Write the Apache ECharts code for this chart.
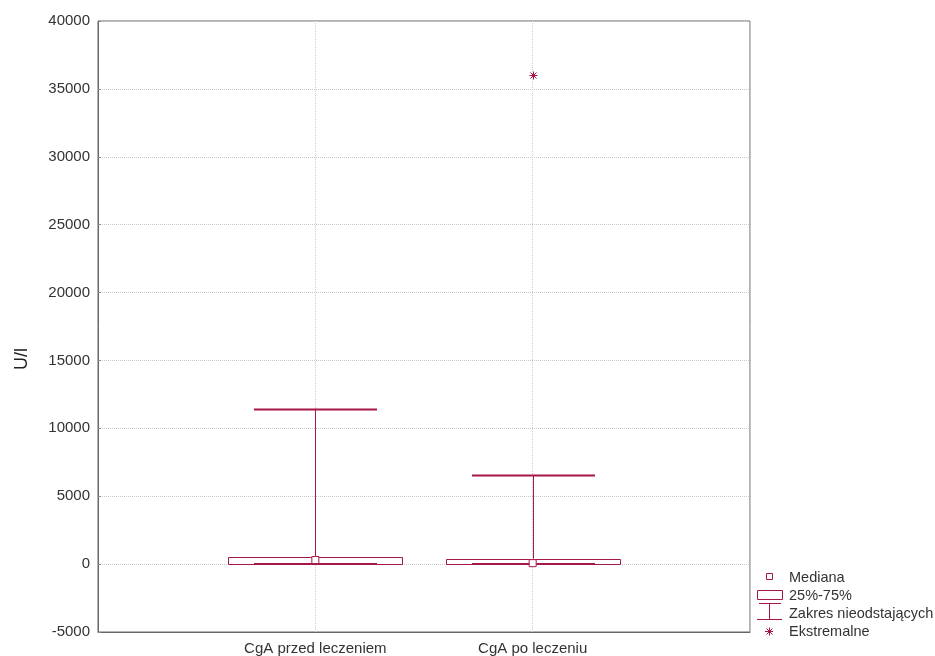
<!DOCTYPE html>
<html>
<head>
<meta charset="utf-8">
<script src="https://cdn.jsdelivr.net/npm/echarts@6/dist/echarts.min.js"></script>
<style>html,body{margin:0;padding:0;background:#fff}#c{width:935px;height:656px}</style>
</head>
<body>
<div id="c"></div>
<script>
const categories = ['CgA przed leczeniem', 'CgA po leczeniu'];
const whiskerLow = [0, 0];
const q1 = [20, 20];
const median = [300, 70];
const q3 = [550, 400];
const whiskerHigh = [11450, 6570];
const extremeCat = ['CgA po leczeniu'];
const extremeVal = [36000];
const yTicks = { min: -5000, max: 40000, interval: 5000 };

const COLOR = '#a5174b';
const FONT = 'Liberation Sans, Arial, sans-serif';

const chart = echarts.init(document.getElementById('c'), null, { renderer: 'canvas' });

const boxData = categories.map((c, i) => [c, q1[i], q3[i]]);
const whiskerData = categories.map((c, i) => [c, whiskerLow[i], q1[i], q3[i], whiskerHigh[i]]);
const medianData = categories.map((c, i) => [c, median[i]]);
const extremeData = extremeCat.map((c, i) => [c, extremeVal[i]]);

function legendLine(x1, y1, x2, y2) {
  return { type: 'line', shape: { x1, y1, x2, y2 }, style: { stroke: COLOR, lineWidth: 1 } };
}
function legendText(y, t) {
  return { type: 'text', x: 789, y: y, style: { text: t, fontSize: 14.5, fontFamily: FONT, fill: '#333', verticalAlign: 'middle' } };
}

chart.setOption({
  animation: false,
  backgroundColor: '#fff',
  textStyle: { fontFamily: FONT },
  grid: { left: 98, right: 185, top: 21, bottom: 24, show: true, borderColor: '#666', borderWidth: 1, containLabel: false },
  xAxis: {
    type: 'category',
    data: ['', ...categories, ''],
    boundaryGap: false,
    axisLine: { onZero: false, lineStyle: { color: '#666' } },
    axisTick: { show: false },
    axisLabel: { interval: 0, color: '#333', fontSize: 15, fontFamily: FONT, margin: 9 },
    splitLine: { show: true, lineStyle: { color: '#d0d0d0', type: 'dotted' } }
  },
  yAxis: {
    type: 'value',
    min: yTicks.min, max: yTicks.max, interval: yTicks.interval,
    axisLine: { show: true, lineStyle: { color: '#666' } },
    axisTick: { show: true, inside: true, length: 3, lineStyle: { color: '#888' } },
    axisLabel: { color: '#333', fontSize: 15, fontFamily: FONT, margin: 8, formatter: v => String(v) },
    splitLine: { show: true, lineStyle: { color: '#c8c8c8', type: 'dotted' } }
  },
  graphic: [
    { type: 'text', x: 22, y: 359, rotation: Math.PI / 2, style: { text: 'U/l', fontSize: 18, fontFamily: FONT, fill: '#222', align: 'center', verticalAlign: 'middle' } },
    { type: 'rect', shape: { x: 766.5, y: 573.5, width: 6, height: 6 }, style: { fill: '#fff', stroke: COLOR, lineWidth: 1 } },
    legendText(578, 'Mediana'),
    { type: 'rect', shape: { x: 757.5, y: 590.5, width: 25, height: 9 }, style: { fill: '#fff', stroke: COLOR, lineWidth: 1 } },
    legendText(596, '25%-75%'),
    legendLine(759, 603.5, 781, 603.5),
    legendLine(769.5, 603.5, 769.5, 619),
    legendLine(757, 619.5, 782, 619.5),
    legendText(614, 'Zakres nieodstających'),
    legendLine(765, 631.5, 773, 631.5),
    legendLine(769.5, 627.5, 769.5, 635.5),
    legendLine(766.5, 628.5, 772.5, 634.5),
    legendLine(772.5, 628.5, 766.5, 634.5),
    legendText(632, 'Ekstremalne')
  ],
  series: [
    {
      name: '25%-75%',
      type: 'custom',
      data: boxData,
      z: 3,
      renderItem: function (params, api) {
        const x = api.value(0);
        const lo = api.coord([x, api.value(1)]);
        const hi = api.coord([x, api.value(2)]);
        const step = api.size([1, 0])[0];
        const w = step * 0.8;
        return {
          type: 'rect',
          shape: { x: Math.round(lo[0] - w / 2) + 0.5, y: Math.round(hi[1]) + 0.5, width: Math.round(w), height: Math.max(1, Math.round(lo[1] - hi[1])) },
          style: { fill: '#fff', stroke: COLOR, lineWidth: 1 }
        };
      }
    },
    {
      name: 'Zakres nieodstających',
      type: 'custom',
      data: whiskerData,
      z: 4,
      renderItem: function (params, api) {
        const x = api.value(0);
        const pLow = api.coord([x, api.value(1)]);
        const pQ1 = api.coord([x, api.value(2)]);
        const pQ3 = api.coord([x, api.value(3)]);
        const pHigh = api.coord([x, api.value(4)]);
        const step = api.size([1, 0])[0];
        const cw = step * 0.566;
        const cx = Math.round(pLow[0]) + 0.5;
        return {
          type: 'group',
          children: [
            { type: 'line', shape: { x1: cx, y1: pQ3[1], x2: cx, y2: pHigh[1] }, style: { stroke: COLOR, lineWidth: 1 } },
            { type: 'line', shape: { x1: cx, y1: pQ1[1], x2: cx, y2: pLow[1] }, style: { stroke: COLOR, lineWidth: 1 } },
            { type: 'line', shape: { x1: cx - cw / 2, y1: Math.round(pHigh[1]) + 0.5, x2: cx + cw / 2, y2: Math.round(pHigh[1]) + 0.5 }, style: { stroke: COLOR, lineWidth: 2 } },
            { type: 'line', shape: { x1: cx - cw / 2, y1: Math.round(pLow[1]), x2: cx + cw / 2, y2: Math.round(pLow[1]) }, style: { stroke: COLOR, lineWidth: 2 } }
          ]
        };
      }
    },
    {
      name: 'Mediana',
      type: 'scatter',
      data: medianData,
      z: 5,
      symbol: 'rect',
      symbolSize: 7,
      itemStyle: { color: '#fff', borderColor: COLOR, borderWidth: 1, opacity: 1 }
    },
    {
      name: 'Ekstremalne',
      type: 'custom',
      data: extremeData,
      z: 5,
      renderItem: function (params, api) {
        const p = api.coord([api.value(0), api.value(1)]);
        const cx = Math.round(p[0]) + 0.5, cy = Math.round(p[1]) + 0.5;
        const s = { stroke: COLOR, lineWidth: 1 };
        return {
          type: 'group',
          children: [
            { type: 'line', shape: { x1: cx - 4, y1: cy, x2: cx + 4, y2: cy }, style: s },
            { type: 'line', shape: { x1: cx, y1: cy - 4, x2: cx, y2: cy + 4 }, style: s },
            { type: 'line', shape: { x1: cx - 3, y1: cy - 3, x2: cx + 3, y2: cy + 3 }, style: s },
            { type: 'line', shape: { x1: cx + 3, y1: cy - 3, x2: cx - 3, y2: cy + 3 }, style: s }
          ]
        };
      }
    }
  ]
});
</script>
</body>
</html>
